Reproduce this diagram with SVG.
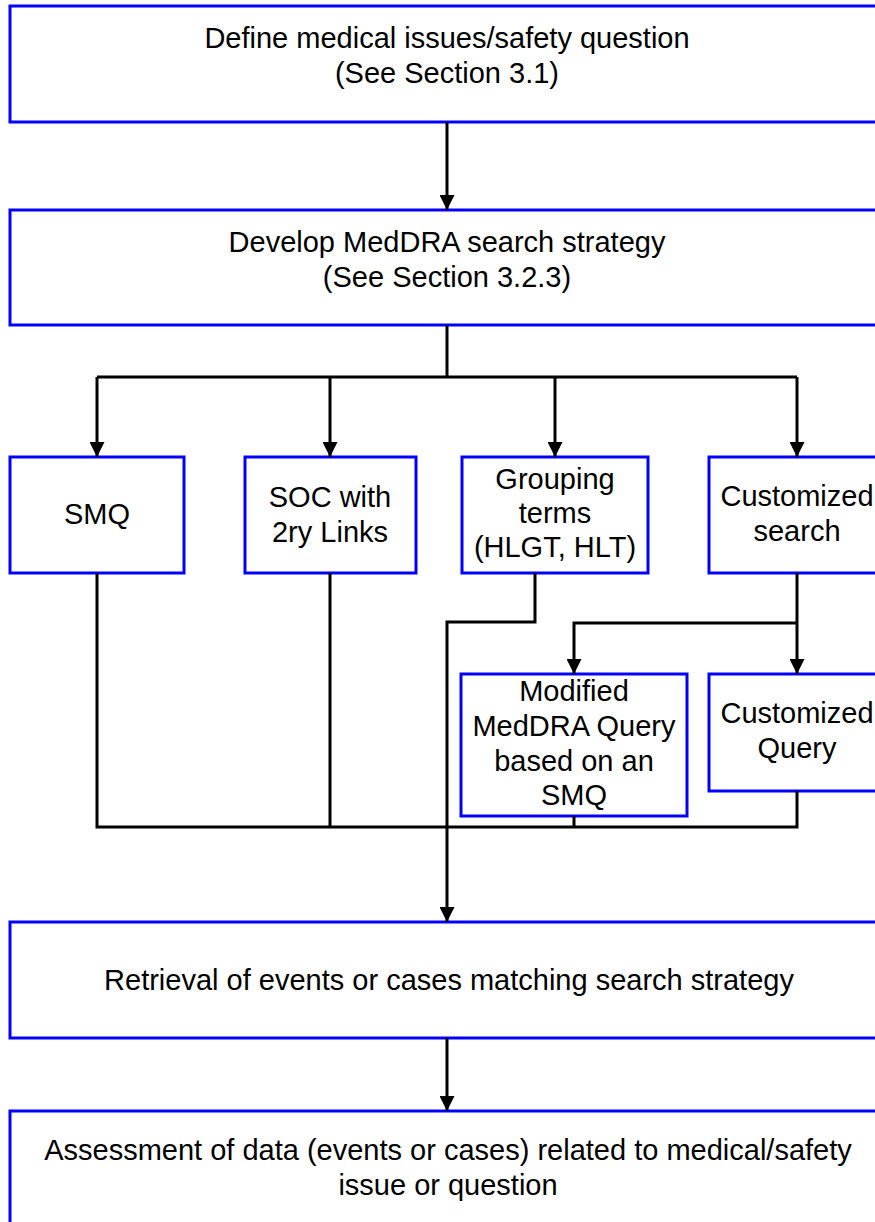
<svg xmlns="http://www.w3.org/2000/svg" width="875" height="1222" viewBox="0 0 875 1222">
  <style>
    .box { fill: #ffffff; stroke: #0000ff; stroke-width: 3; }
    .lbl { font-family: "Liberation Sans", Arial, sans-serif; font-size: 29px; fill: #000000; text-anchor: middle; }
    .con { fill: none; stroke: #000000; stroke-width: 3; stroke-linejoin: miter; }
    .arr { marker-end: url(#ah); }
  </style>
  <defs>
    <marker id="ah" markerUnits="userSpaceOnUse" markerWidth="15" markerHeight="15" viewBox="0 0 15 15" refX="15" refY="7.5" orient="auto">
      <path d="M0,0 L15,7.5 L0,15 Z" fill="#000000"/>
    </marker>
  </defs>
  <rect width="875" height="1222" fill="#ffffff"/>

  <g id="n-define">
    <rect class="box" x="10" y="6" width="880" height="116"/>
    <text class="lbl" x="447" y="48">Define medical issues/safety question</text>
    <text class="lbl" x="447" y="83">(See Section 3.1)</text>
  </g>
  <g id="n-develop">
    <rect class="box" x="10" y="210" width="880" height="115"/>
    <text class="lbl" x="447" y="252">Develop MedDRA search strategy</text>
    <text class="lbl" x="447" y="287">(See Section 3.2.3)</text>
  </g>
  <g id="n-smq">
    <rect class="box" x="10" y="457" width="174" height="116"/>
    <text class="lbl" x="97" y="524">SMQ</text>
  </g>
  <g id="n-soc">
    <rect class="box" x="245" y="457" width="171" height="116"/>
    <text class="lbl" x="330" y="507">SOC with</text>
    <text class="lbl" x="330" y="542">2ry Links</text>
  </g>
  <g id="n-grouping">
    <rect class="box" x="462" y="457" width="186" height="116"/>
    <text class="lbl" x="555" y="489">Grouping</text>
    <text class="lbl" x="555" y="523">terms</text>
    <text class="lbl" x="555" y="557">(HLGT, HLT)</text>
  </g>
  <g id="n-custsearch">
    <rect class="box" x="709" y="457" width="180" height="116"/>
    <text class="lbl" x="797" y="506">Customized</text>
    <text class="lbl" x="797" y="541">search</text>
  </g>
  <g id="n-modified">
    <rect class="box" x="461" y="674" width="226" height="142"/>
    <text class="lbl" x="574" y="701">Modified</text>
    <text class="lbl" x="574" y="736">MedDRA Query</text>
    <text class="lbl" x="574" y="771">based on an</text>
    <text class="lbl" x="574" y="805">SMQ</text>
  </g>
  <g id="n-custquery">
    <rect class="box" x="709" y="674" width="180" height="117"/>
    <text class="lbl" x="797" y="723">Customized</text>
    <text class="lbl" x="797" y="758">Query</text>
  </g>
  <g id="n-retrieval">
    <rect class="box" x="10" y="922" width="880" height="116"/>
    <text class="lbl" x="449" y="990">Retrieval of events or cases matching search strategy</text>
  </g>
  <g id="n-assessment">
    <rect class="box" x="10" y="1111" width="880" height="130"/>
    <text class="lbl" x="448" y="1160">Assessment of data (events or cases) related to medical/safety</text>
    <text class="lbl" x="448" y="1195">issue or question</text>
  </g>

  <g id="connectors">
    <path class="con arr" d="M447,122 V210"/>
    <path class="con" d="M447,325 V377 M97,377 H797"/>
    <path class="con arr" d="M97,377 V457"/>
    <path class="con arr" d="M330,377 V457"/>
    <path class="con arr" d="M555,377 V457"/>
    <path class="con arr" d="M797,377 V457"/>
    <path class="con" d="M97,573 V827 H797 V791"/>
    <path class="con" d="M330,573 V827"/>
    <path class="con" d="M574,816 V827"/>
    <path class="con arr" d="M535,573 V622 H447 V922"/>
    <path class="con arr" d="M797,573 V674"/>
    <path class="con arr" d="M797,623 H574 V674"/>
    <path class="con arr" d="M447,1038 V1111"/>
  </g>
</svg>
